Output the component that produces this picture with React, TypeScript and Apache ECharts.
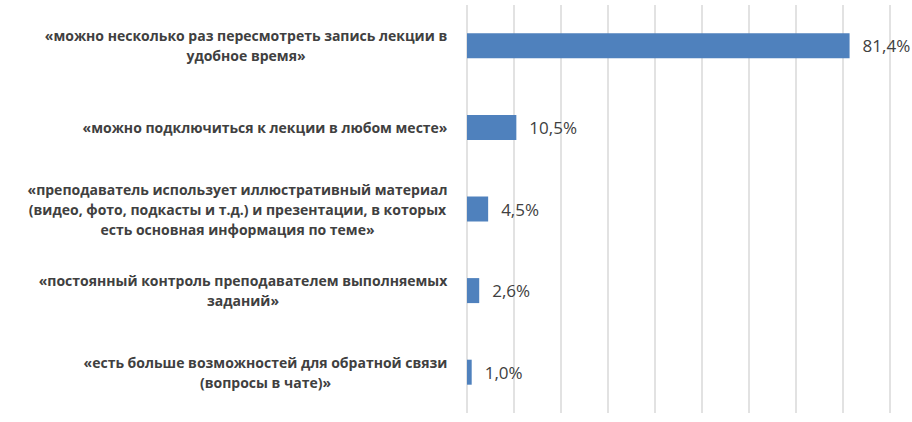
import React, { useEffect, useRef } from "react";
import * as echarts from "echarts";

const categories: string[] = [
  "«можно несколько раз пересмотреть запись лекции в\nудобное время»",
  "«можно подключиться к лекции в любом месте»",
  "«преподаватель использует иллюстративный материал\n(видео, фото, подкасты и т.д.) и презентации, в которых\nесть основная информация по теме»",
  "«постоянный контроль преподавателем выполняемых\nзаданий»",
  "«есть больше возможностей для обратной связи\n(вопросы в чате)»",
];
const values: number[] = [81.4, 10.5, 4.5, 2.6, 1.0];
const axisMin = 0;
const axisMax = 90;
const axisStep = 10;

const CAT_FONT = "'Open Sans', 'Noto Sans', sans-serif";
const CAT_SIZE = 14;

function measureWidth(text: string): number {
  const c = document.createElement("canvas");
  const ctx = c.getContext("2d")!;
  ctx.font = `bold ${CAT_SIZE}px ${CAT_FONT}`;
  return Math.max(...text.split("\n").map((l) => ctx.measureText(l).width));
}

export default function App() {
  const ref = useRef<HTMLDivElement>(null);
  useEffect(() => {
    document.body.style.margin = "0";
    if (!ref.current) return;
    const chart = echarts.init(ref.current, null, { renderer: "svg" });
    const rich: Record<string, any> = {};
    categories.forEach((c, i) => {
      rich["l" + i] = {
        width: Math.ceil(measureWidth(c)) + 1,
        align: "center",
        fontFamily: CAT_FONT,
        fontSize: CAT_SIZE,
        fontWeight: "bold",
        color: "#404040",
        lineHeight: 20,
      };
    });
    chart.setOption({
      animation: false,
      grid: { left: 467, right: 22, top: 5, bottom: 9, containLabel: false },
      xAxis: {
        type: "value",
        min: axisMin,
        max: axisMax,
        interval: axisStep,
        axisLabel: { show: false },
        axisLine: { show: false },
        axisTick: { show: false },
        splitLine: { show: true, lineStyle: { color: "#d9d9d9", width: 1.5 } },
      },
      yAxis: {
        type: "category",
        inverse: true,
        data: categories,
        axisLine: { show: false },
        axisTick: { show: false },
        axisLabel: {
          margin: 19,
          align: "right",
          formatter: (v: string, i: number) =>
            v
              .split("\n")
              .map((l) => `{l${i}|${l}}`)
              .join("\n"),
          rich,
        },
      },
      series: [
        {
          type: "bar",
          data: values,
          barWidth: 25,
          itemStyle: { color: "#4f81bd" },
          label: {
            show: true,
            position: "right",
            distance: 13,
            fontFamily: "'Open Sans', sans-serif",
            fontSize: 17,
            color: "#404040",
            formatter: (p: any) => p.value.toFixed(1).replace(".", ",") + "%",
          },
        },
      ],
    });
    return () => chart.dispose();
  }, []);
  return <div ref={ref} style={{ width: 912, height: 422 }} />;
}
